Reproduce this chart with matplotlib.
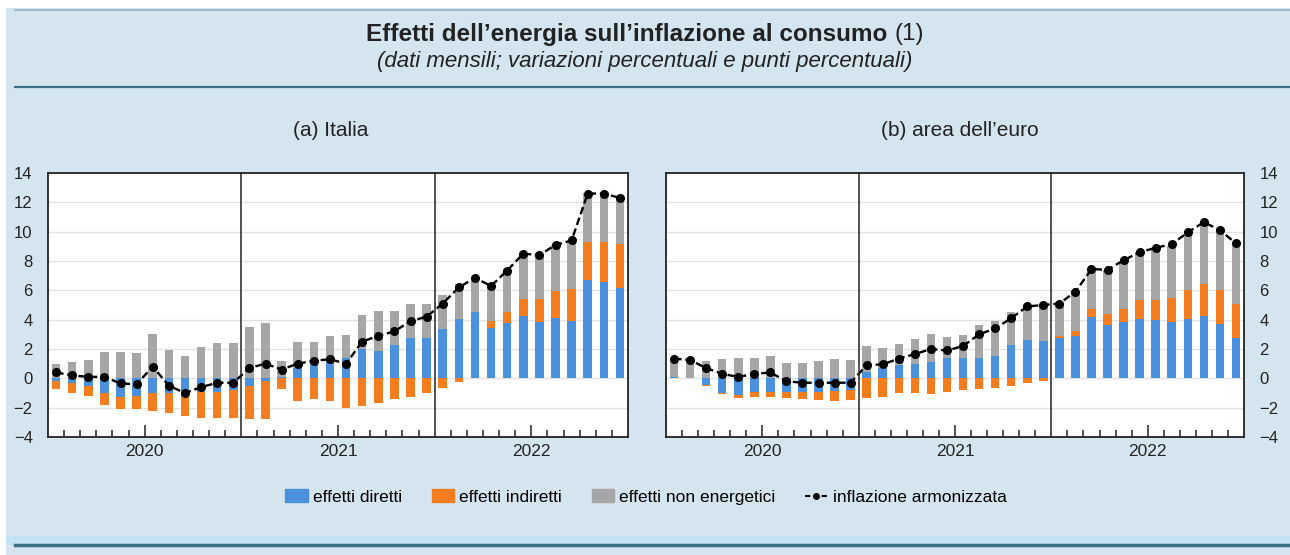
import matplotlib
matplotlib.use("Agg")
import matplotlib.pyplot as plt
import numpy as np
from matplotlib.patches import Rectangle, Patch
from matplotlib.lines import Line2D

plt.rcParams['font.family'] = ['Liberation Sans', 'DejaVu Sans']

YEARS = ['2020', '2021', '2022']

# (a) Italia, monthly Jan 2020 - Dec 2022
ita_diretti = [-0.2, -0.3, -0.5, -1.0, -1.25, -1.2, -1.0, -1.0, -1.0, -0.9, -0.9, -0.8,
               -0.5, -0.2, 0.1, 0.73, 1.3, 1.3, 1.4, 2.0, 1.87, 2.3, 2.73, 2.73,
               3.35, 4.03, 4.49, 3.46, 3.8, 4.26, 3.85, 4.1, 3.92, 6.72, 6.58, 6.13]
ita_indiretti = [-0.5, -0.7, -0.7, -0.8, -0.85, -0.9, -1.25, -1.35, -1.55, -1.8, -1.8, -1.9,
                 -2.3, -2.55, -0.7, -1.55, -1.4, -1.55, -2.0, -1.9, -1.66, -1.43, -1.25, -0.98,
                 -0.64, -0.25, 0.0, 0.45, 0.7, 1.14, 1.55, 1.87, 2.16, 2.6, 2.69, 3.03]
ita_non_energ = [1.0, 1.1, 1.23, 1.8, 1.82, 1.75, 3.05, 1.95, 1.55, 2.15, 2.4, 2.4,
                 3.5, 3.75, 1.1, 1.77, 1.2, 1.6, 1.56, 2.33, 2.73, 2.3, 2.37, 2.37,
                 2.32, 2.39, 2.39, 2.39, 2.95, 3.07, 2.96, 3.12, 3.3, 3.32, 3.37, 3.19]
ita_inflazione = [0.4, 0.2, 0.1, 0.1, -0.35, -0.4, 0.8, -0.5, -1.0, -0.6, -0.3, -0.3,
                  0.7, 1.0, 0.6, 1.0, 1.2, 1.3, 1.0, 2.5, 2.9, 3.2, 3.9, 4.2,
                  5.1, 6.2, 6.85, 6.3, 7.35, 8.5, 8.4, 9.1, 9.4, 12.6, 12.6, 12.3]

# (b) area dell'euro
eur_diretti = [0.1, 0.05, -0.45, -1.0, -1.15, -0.9, -0.9, -0.9, -0.9, -0.9, -0.85, -0.8,
               0.4, 0.68, 0.9, 1.0, 1.13, 1.36, 1.36, 1.36, 1.54, 2.26, 2.6, 2.53,
               2.76, 2.9, 4.19, 3.62, 3.85, 4.07, 3.96, 3.85, 4.03, 4.25, 3.73, 2.76]
eur_indiretti = [0.0, 0.0, -0.05, -0.05, -0.2, -0.34, -0.34, -0.41, -0.5, -0.57, -0.67, -0.67,
                 -1.31, -1.24, -1.0, -1.0, -1.09, -0.9, -0.8, -0.72, -0.68, -0.52, -0.34, -0.16,
                 0.1, 0.3, 0.56, 0.8, 0.85, 1.25, 1.36, 1.63, 2.0, 2.2, 2.3, 2.3]
eur_non_energ = [1.15, 1.2, 1.18, 1.29, 1.4, 1.4, 1.54, 1.02, 1.02, 1.18, 1.29, 1.24,
                 1.82, 1.36, 1.43, 1.67, 1.87, 1.47, 1.58, 2.3, 2.37, 2.26, 2.38, 2.49,
                 2.23, 2.7, 2.72, 2.94, 3.33, 3.28, 3.46, 3.52, 3.9, 4.2, 4.1, 4.1]
eur_inflazione = [1.35, 1.25, 0.7, 0.3, 0.1, 0.3, 0.4, -0.2, -0.3, -0.3, -0.3, -0.3,
                  0.9, 0.95, 1.35, 1.65, 2.0, 1.9, 2.2, 3.0, 3.4, 4.1, 4.9, 5.0,
                  5.1, 5.9, 7.45, 7.4, 8.05, 8.6, 8.9, 9.15, 9.95, 10.65, 10.1, 9.2]

BLUE = '#4a90dc'
ORANGE = '#f47d20'
GRAY = '#a6a6a6'
BG = '#d5e5ef'
LINE_C = '#3d6f88'
TXT = '#222222'
DASH = (0, (3.2, 1.6))

fig = plt.figure(figsize=(12.9, 5.55), dpi=100)
fig.patch.set_facecolor('white')
fig.add_artist(Rectangle((6 / 1290, 0), 1, 1 - 8 / 555, transform=fig.transFigure,
                         facecolor=BG, edgecolor='none', zorder=-10))
fig.add_artist(Rectangle((6 / 1290, 10 / 555), 1, 9 / 555, transform=fig.transFigure,
                         facecolor='#c3e2f2', edgecolor='none', zorder=-9))
fig.add_artist(Line2D([15 / 1290, 1], [1 - 10 / 555] * 2, transform=fig.transFigure,
                      color='#8fb3c6', lw=1.2))
fig.add_artist(Line2D([15 / 1290, 1], [1 - 87 / 555] * 2, transform=fig.transFigure,
                      color=LINE_C, lw=1.6))
fig.add_artist(Line2D([15 / 1290, 1], [1 - 545 / 555] * 2, transform=fig.transFigure,
                      color=LINE_C, lw=2.5))

# title: bold part + regular "(1)", centred together
t1 = fig.text(0, 1 - 34 / 555, 'Effetti dell’energia sull’inflazione al consumo ',
              ha='left', va='center', fontsize=17.5, fontweight='bold', color=TXT)
t2 = fig.text(0, 1 - 34 / 555, '(1)', ha='left', va='center', fontsize=17.5, color=TXT)
renderer = fig.canvas.get_renderer()
w1 = t1.get_window_extent(renderer).width / 1290
w2 = t2.get_window_extent(renderer).width / 1290
x0 = 0.5 - (w1 + w2) / 2
t1.set_x(x0)
t2.set_x(x0 + w1)
fig.text(0.5, 1 - 62 / 555, '(dati mensili; variazioni percentuali e punti percentuali)',
         ha='center', va='center', fontsize=16, style='italic', color=TXT)


def draw_panel(ax, diretti, indiretti, non_energ, inflazione, side):
    x = np.arange(len(diretti))
    pos = np.zeros(len(x))
    neg = np.zeros(len(x))
    for vals, col in [(diretti, BLUE), (indiretti, ORANGE), (non_energ, GRAY)]:
        v = np.array(vals)
        bottom = np.where(v >= 0, pos, neg)
        ax.bar(x, v, bottom=bottom, width=0.53, color=col, zorder=2)
        pos = pos + np.where(v >= 0, v, 0)
        neg = neg + np.where(v < 0, v, 0)
    ax.plot(x, inflazione, color='black', lw=1.7, ls=DASH, marker='o',
            markersize=5.5, zorder=4)
    ax.set_xlim(-0.5, len(x) - 0.5)
    ax.set_ylim(-4, 14)
    ax.set_yticks(np.arange(-4, 15, 2))
    ax.grid(axis='y', color='#e2e2e2', lw=1, zorder=0)
    ax.set_axisbelow(True)
    for b in [11.5, 23.5]:
        ax.axvline(b, color=TXT, lw=1.1, zorder=5)
    ax.set_xticks([5.5, 17.5, 29.5])
    ax.set_xticklabels(YEARS)
    ax.set_xticks([m + 0.5 for m in range(35) if (m + 1) % 12 != 0 and (m + 1) % 12 != 6],
                  minor=True)
    ax.tick_params(axis='x', which='major', direction='in', length=9, width=1.1,
                   labelsize=12.5, pad=5, colors=TXT)
    ax.tick_params(axis='x', which='minor', direction='in', length=5, width=1.1,
                   color=TXT)
    ax.tick_params(axis='y', length=0, labelsize=12, pad=11, colors=TXT)
    if side == 'right':
        ax.yaxis.tick_right()
    for s in ax.spines.values():
        s.set_color(TXT)
        s.set_linewidth(1.3)
    ax.set_facecolor('white')


ax1 = fig.add_axes([48 / 1290, 1 - 437 / 555, 580 / 1290, 264 / 555])
draw_panel(ax1, ita_diretti, ita_indiretti, ita_non_energ, ita_inflazione, 'left')
ax2 = fig.add_axes([666 / 1290, 1 - 437 / 555, 578 / 1290, 264 / 555])
draw_panel(ax2, eur_diretti, eur_indiretti, eur_non_energ, eur_inflazione, 'right')

fig.text(331 / 1290, 1 - 130 / 555, '(a) Italia', ha='center', va='center', fontsize=15,
         color=TXT)
fig.text(960 / 1290, 1 - 130 / 555, '(b) area dell’euro', ha='center', va='center',
         fontsize=15, color=TXT)

handles = [Patch(color=BLUE), Patch(color=ORANGE), Patch(color=GRAY),
           Line2D([], [], color='black', lw=1.5, ls=(0, (2.5, 1.5)), marker='o',
                  markersize=4)]
labels = ['effetti diretti', 'effetti indiretti', 'effetti non energetici',
          'inflazione armonizzata']
fig.legend(handles, labels, loc='center', bbox_to_anchor=(646 / 1290, 1 - 497 / 555),
           ncol=4, frameon=False, fontsize=12.5, handlelength=1.3, handleheight=0.75,
           handletextpad=0.3, columnspacing=1.7)

fig.savefig('out.png', dpi=100, facecolor=fig.get_facecolor())
